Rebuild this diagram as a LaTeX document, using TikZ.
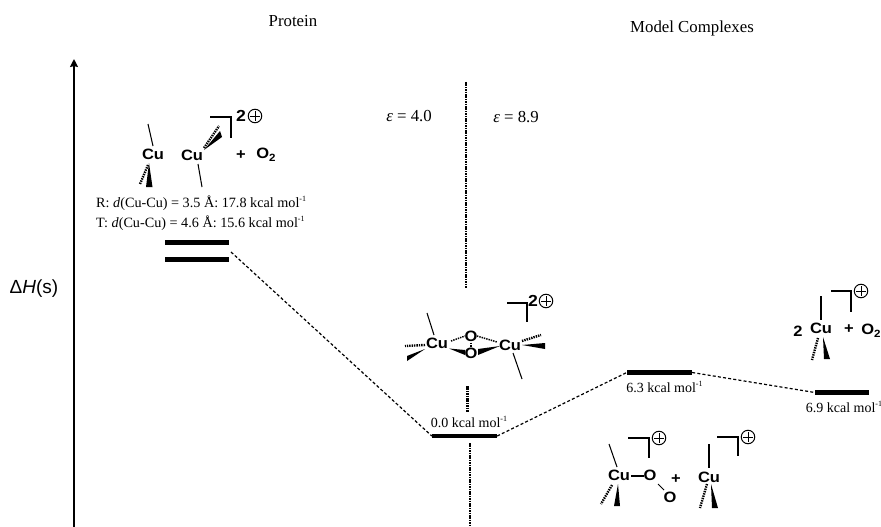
\documentclass[tikz,border=0pt]{standalone}
\usepackage{fontspec}
\setmainfont{Liberation Serif}
\setsansfont{Liberation Sans}
\newfontfamily\chem{Liberation Sans}[UprightFont=* Bold,FakeStretch=1.1]
\usetikzlibrary{arrows.meta}
\newcommand{\fs}[1]{\fontsize{#1}{#1}\selectfont}
\newcommand{\kcalsup}{kcal mol\raisebox{0.42em}{\fontsize{8}{8}\selectfont -1}}
\newcommand{\sub}[1]{\raisebox{-0.22em}{\fontsize{10.5}{10.5}\selectfont #1}}
\tikzset{
  x=1pt,y=-1pt,
  level/.style={fill=black,inner sep=0pt,minimum height=4.6pt,rectangle},
  link/.style={line width=1.2pt,dash pattern=on 3pt off 2.2pt},
  vdots/.style={line width=2.8pt,dash pattern=on 1.6pt off 0.8pt},
  bond/.style={line width=1.05pt},
  hashb/.style={line width=2.4pt,dash pattern=on 1.4pt off 1pt},
  wedgeb/.style={fill=black},
  atom/.style={font=\chem\fs{15},inner sep=0pt},
  charge/.style={font=\chem\fs{16},inner sep=0pt},
  plus/.style={circle,draw,line width=1pt,inner sep=0pt,minimum size=13.5pt,
    path picture={\draw[line width=1pt] ([xshift=2pt]path picture bounding box.west) -- ([xshift=-2pt]path picture bounding box.east)
      ([yshift=-2pt]path picture bounding box.north) -- ([yshift=2pt]path picture bounding box.south);}},
  lab/.style={font=\fs{16.8},inner sep=0pt},
  small/.style={font=\fs{14.2},inner sep=0pt},
  kc/.style={font=\fs{14},inner sep=0pt},
}
\begin{document}
\begin{tikzpicture}
\useasboundingbox (0,0) rectangle (881,527);
\fill[white] (0,0) rectangle (881,527);
% headings
\node[lab] (protein) at (293,21) {Protein};
\node[lab] (model) at (692,28) {Model Complexes};
\node[lab] (e1) at (409,116) {\textit{ε} = 4.0};
\node[lab] (e2) at (516,117) {\textit{ε} = 8.9};
\node[font=\sffamily\fs{19},inner sep=0pt] (dh) at (34,289) {Δ\textit{H}(s)};
% axis
\coordinate (a0) at (74,527);
\coordinate (a1) at (74,59);
\draw[line width=2.2pt,-{Stealth[length=8pt,width=8pt,inset=1pt]}] (a0) -- (a1);
% dotted vertical
\coordinate (v0) at (466,82); \coordinate (v1) at (466,288);
\coordinate (v2) at (467.5,386); \coordinate (v3) at (467.5,412);
\coordinate (v4) at (470,443); \coordinate (v5) at (470,527);
\draw[vdots] (v0) -- (v1) (v2) -- (v3) (v4) -- (v5);
% levels
\node[level,minimum width=64pt] (lr) at (197,242.7) {};
\node[level,minimum width=64pt] (lt) at (197,259.5) {};
\node[level,minimum width=65pt] (lm) at (464.5,436) {};
\node[level,minimum width=65pt] (l6) at (659.5,372.5) {};
\node[level,minimum width=54pt] (l7) at (842,392.5) {};
\coordinate (ls) at (231,252);
\draw[link] (ls) -- (lm.west);
\draw[link] (lm.east) -- (l6.west);
\draw[link] (l6.east) -- (l7.west);
% energy labels
\node[small,anchor=west] (tr) at (96,203) {R: \textit{d}(Cu-Cu) = 3.5 Å: 17.8 \kcalsup};
\node[small,anchor=west] (tt) at (96,223) {T: \textit{d}(Cu-Cu) = 4.6 Å: 15.6 \kcalsup};
\node[kc] (k0) at (469,422) {0.0 \kcalsup};
\node[kc] (k6) at (664.5,387) {6.3 \kcalsup};
\node[kc] (k7) at (844,407) {6.9 \kcalsup};
% protein deoxy
\node[atom] (cu1) at (153,154) {Cu};
\node[atom] (cu2) at (192,155) {Cu};
\draw[bond] (148,124) -- (153,146);
\draw[hashb] (148,165) -- (140,184);
\fill[wedgeb] (149,163) -- (146,187) -- (152.5,187) -- cycle;
\draw[bond] (198,164) -- (202,187);
\draw[hashb] (204,148) -- (219,126);
\fill[wedgeb] (204,150) -- (222,137) -- (220,131) -- cycle;
\draw[bond] (210,117) -- (231,117) -- (231,138);
\node[charge] (c2a) at (241,116) {2};
\node[plus] (p1) at (255,116) {};
\node[atom] (pl1) at (241,155) {+};
\node[atom] (o2a) at (266,155) {O\sub{2}};
% middle complex
\node[atom] (cu3) at (437,343) {Cu};
\node[atom] (cu4) at (510,345) {Cu};
\node[atom] (ot) at (471,336) {O};
\node[atom] (ob) at (471,353) {O};
\draw[bond] (427,313) -- (434,335);
\draw[hashb] (425,345) -- (405,346);
\fill[wedgeb] (425,349) -- (407,356) -- (407,361) -- cycle;
\draw[hashb,line width=1.5pt] (451,341) -- (465,336);
\fill[wedgeb] (449,348.5) -- (465,350) -- (465,355) -- cycle;
\draw[hashb,line width=1.5pt] (477,336) -- (497,342);
\fill[wedgeb] (500,346) -- (478,349) -- (478,355) -- cycle;
\draw[bond,dash pattern=on 1.5pt off 1pt] (471,342.5) -- (471,347);
\draw[hashb] (522,341) -- (541,335);
\fill[wedgeb] (522,345) -- (545,343) -- (545,349) -- cycle;
\draw[bond] (513,353) -- (522,379);
\draw[bond] (507,303) -- (527,303) -- (527,322);
\node[charge] (c2b) at (533,301) {2};
\node[plus] (p2) at (546,301) {};
% right complex
\node[atom] (n2) at (798,331) {2};
\node[atom] (cu5) at (821,328) {Cu};
\draw[bond] (821,296) -- (821,320);
\draw[bond] (831,291) -- (851,291) -- (851,312);
\node[plus] (p3) at (861,291) {};
\node[atom] (pl3) at (849,329) {+};
\node[atom] (o2b) at (871,331) {O\sub{2}};
\draw[hashb] (818,338) -- (812,360);
\fill[wedgeb] (823,337) -- (824,359) -- (830,359) -- cycle;
% bottom complexes
\node[atom] (cu6) at (619,475) {Cu};
\node[atom] (o3) at (650,475) {O};
\node[atom] (o4) at (670,497) {O};
\draw[bond] (631,476) -- (644,476);
\draw[bond] (658,484) -- (664,490);
\node[atom] (pl4) at (676,479) {+};
\draw[bond] (609,444) -- (617,467);
\draw[hashb] (612,485) -- (601,504);
\fill[wedgeb] (618,484) -- (614,506) -- (620,506) -- cycle;
\draw[bond] (628,438) -- (649,438) -- (649,458);
\node[plus] (p4) at (659,438) {};
\node[atom] (cu7) at (709,477) {Cu};
\draw[bond] (709,444) -- (709,468);
\draw[bond] (717,437) -- (738,437) -- (738,456);
\node[plus] (p5) at (748,437) {};
\draw[hashb] (707,484) -- (700,508);
\fill[wedgeb] (711,484) -- (712,508) -- (718,508) -- cycle;
\end{tikzpicture}
\end{document}
